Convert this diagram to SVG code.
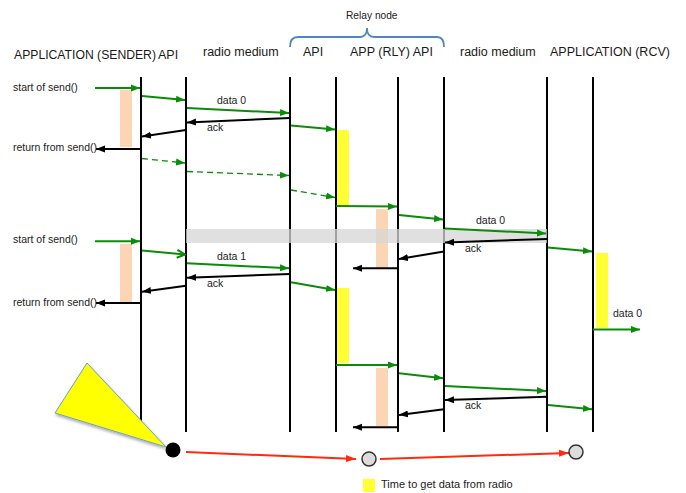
<svg xmlns="http://www.w3.org/2000/svg" width="686" height="493" viewBox="0 0 686 493">
<style>
.hdr{font-family:"Liberation Sans",Arial,sans-serif;font-size:12.5px;fill:#1a1a1a}
.lbl{font-family:"Liberation Sans",Arial,sans-serif;font-size:10.5px;fill:#222}
.life{stroke:#000;stroke-width:2;fill:none}
.g{stroke:#0a8c0a;stroke-width:2;fill:none;marker-end:url(#ag)}
.gd{stroke:#0a8c0a;stroke-width:1.3;fill:none;stroke-dasharray:6 4;marker-end:url(#ag)}
.k{stroke:#000;stroke-width:2;fill:none;marker-end:url(#ak)}
.r{stroke:#ff2a10;stroke-width:2;fill:none;marker-end:url(#ar)}
.peach{fill:#fbd5b4}
.yel{fill:#ffff33}
.gc{fill:#dcdcdc;stroke:#333;stroke-width:1.5}
</style>
<defs>
<marker id="ag" markerUnits="userSpaceOnUse" markerWidth="9" markerHeight="8" viewBox="0 0 9 8" refX="9" refY="4" orient="auto"><path d="M0,0.5 L9,4 L0,7.5 z" fill="#0a8c0a"/></marker>
<marker id="ago" markerUnits="userSpaceOnUse" markerWidth="10" markerHeight="10" viewBox="0 0 10 10" refX="9" refY="5" orient="auto"><path d="M1,1 L9,5 L1,9" fill="none" stroke="#0a8c0a" stroke-width="2"/></marker>
<marker id="ak" markerUnits="userSpaceOnUse" markerWidth="9" markerHeight="8" viewBox="0 0 9 8" refX="9" refY="4" orient="auto"><path d="M0,0.5 L9,4 L0,7.5 z" fill="#000"/></marker>
<marker id="ar" markerUnits="userSpaceOnUse" markerWidth="10" markerHeight="8" viewBox="0 0 10 8" refX="10" refY="4" orient="auto"><path d="M0,0.5 L10,4 L0,7.5 z" fill="#ff2a10"/></marker>
<filter id="sh" x="-20%" y="-20%" width="150%" height="150%"><feDropShadow dx="1" dy="2" stdDeviation="1.5" flood-color="#000" flood-opacity="0.35"/></filter>
</defs>
<rect width="686" height="493" fill="#fff"/>

<!-- relay brace -->
<g id="relay">
<path d="M290,47 Q290,37 298,37 L360,37 Q367,37 367,28 Q367,37 374,37 L437,37 Q444,37 444,47" fill="none" stroke="#4f86c6" stroke-width="1.8"/>
<text class="lbl" x="346" y="19" style="font-size:10.2px">Relay node</text>
</g>

<!-- activation boxes -->
<g id="activations">
<rect class="peach" x="120" y="90" width="12" height="57"/>
<rect class="peach" x="120" y="244" width="12" height="58"/>
<rect class="peach" x="376" y="209" width="12" height="59"/>
<rect class="peach" x="376" y="368" width="12" height="58"/>
<rect class="yel" x="337" y="130" width="12" height="75"/>
<rect class="yel" x="337" y="288" width="12" height="75"/>
<rect class="yel" x="596" y="253" width="12" height="75"/>
</g>

<!-- lifelines -->
<g id="app-sender"><text class="hdr" x="14" y="58.5" style="font-size:12.2px">APPLICATION (SENDER)</text><line class="life" x1="141" y1="77" x2="141" y2="432"/></g>
<g id="api-sender"><text class="hdr" x="158" y="58.5">API</text><line class="life" x1="186" y1="77" x2="186" y2="432"/></g>
<g id="radio-1"><text class="hdr" x="203" y="56">radio medium</text><line class="life" x1="290" y1="77" x2="290" y2="432"/></g>
<g id="api-relay"><text class="hdr" x="303" y="56">API</text><line class="life" x1="336" y1="77" x2="336" y2="432"/></g>
<g id="app-relay"><text class="hdr" x="350" y="56">APP (RLY) API</text><line class="life" x1="398" y1="77" x2="398" y2="432"/></g>
<g id="api-relay-2"><line class="life" x1="444" y1="77" x2="444" y2="432"/></g>
<g id="radio-2"><text class="hdr" x="460" y="56">radio medium</text><line class="life" x1="547" y1="77" x2="547" y2="432"/></g>
<g id="app-rcv"><text class="hdr" x="550" y="56">APPLICATION (RCV)</text><line class="life" x1="593" y1="77" x2="593" y2="432"/></g>

<!-- gray band -->
<rect x="186" y="229" width="361" height="14" fill="#d6d6d6" fill-opacity="0.75"/>

<!-- connectors -->
<g id="connectors">
<line class="g" x1="95" y1="88" x2="140" y2="88"/>
<line class="g" x1="142" y1="96" x2="185" y2="100"/>
<line class="g" x1="187" y1="108" x2="289" y2="113"/>
<line class="k" x1="290" y1="118" x2="187" y2="122.5"/>
<line class="k" x1="186" y1="130" x2="142" y2="136.5"/>
<line class="k" x1="141" y1="149" x2="96" y2="149"/>
<line class="g" x1="291" y1="125.5" x2="335" y2="129.5"/>
<line class="gd" x1="142" y1="158.5" x2="185" y2="163"/>
<line class="gd" x1="187" y1="171.5" x2="289" y2="175.5"/>
<line class="gd" x1="291" y1="190" x2="335" y2="197.5"/>

<line class="g" x1="336" y1="206" x2="397" y2="206.5"/>
<line class="g" x1="399" y1="215" x2="443" y2="219.5"/>
<line class="g" x1="445" y1="228.5" x2="546" y2="233.5"/>
<line class="k" x1="547" y1="239" x2="445" y2="242.5"/>
<line class="k" x1="444" y1="251.5" x2="399" y2="259"/>
<line class="k" x1="398" y1="268.3" x2="353" y2="268.3"/>
<line class="g" x1="548" y1="247.5" x2="592" y2="251.5"/>
<line class="g" x1="593" y1="329.5" x2="640" y2="329.5"/>

<line class="g" x1="95" y1="241.3" x2="140" y2="241.3"/>
<line x1="142" y1="250.5" x2="185" y2="254.5" stroke="#0a8c0a" stroke-width="2" fill="none" marker-end="url(#ago)"/>
<line class="g" x1="187" y1="263.3" x2="289" y2="268.3"/>
<line class="k" x1="290" y1="274" x2="187" y2="277.7"/>
<line class="k" x1="186" y1="285.7" x2="142" y2="291.7"/>
<line class="k" x1="141" y1="303" x2="96" y2="303"/>
<line class="g" x1="291" y1="282.3" x2="335" y2="290"/>

<line class="g" x1="336" y1="365" x2="397" y2="365"/>
<line class="g" x1="399" y1="373.3" x2="443" y2="378.3"/>
<line class="g" x1="445" y1="386" x2="546" y2="391"/>
<line class="k" x1="547" y1="396.7" x2="445" y2="400"/>
<line class="k" x1="444" y1="409.3" x2="399" y2="415"/>
<line class="k" x1="398" y1="427.3" x2="353" y2="427.3"/>
<line class="g" x1="548" y1="405" x2="592" y2="409.3"/>

<line class="r" x1="186" y1="452" x2="356" y2="459"/>
<line class="r" x1="380" y1="459" x2="569" y2="453"/>
</g>

<!-- labels -->
<g id="labels">
<text class="lbl" x="13" y="90.7">start of send()</text>
<text class="lbl" x="13" y="151">return from send()</text>
<text class="lbl" x="217" y="104">data 0</text>
<text class="lbl" x="207" y="131">ack</text>
<text class="lbl" x="13" y="243">start of send()</text>
<text class="lbl" x="13" y="306">return from send()</text>
<text class="lbl" x="217" y="260">data 1</text>
<text class="lbl" x="207" y="286.7">ack</text>
<text class="lbl" x="476" y="224">data 0</text>
<text class="lbl" x="465" y="251.7">ack</text>
<text class="lbl" x="613" y="316.7">data 0</text>
<text class="lbl" x="465" y="409.3">ack</text>
</g>

<!-- timeline markers -->
<g id="pointer"><polygon points="87,363 55,413 166,447" fill="#ffff00" stroke="#6a9fd2" stroke-width="1" filter="url(#sh)"/></g>
<g id="dot-start"><circle cx="173" cy="450" r="7.5" fill="#000"/></g>
<g id="dot-mid"><circle class="gc" cx="369" cy="459" r="7"/></g>
<g id="dot-end"><circle class="gc" cx="576" cy="452" r="7"/></g>

<!-- legend -->
<g id="legend">
<rect class="yel" x="363" y="479" width="12" height="13"/>
<text class="lbl" x="381" y="488" style="font-size:11px">Time to get data from radio</text>
</g>
</svg>
